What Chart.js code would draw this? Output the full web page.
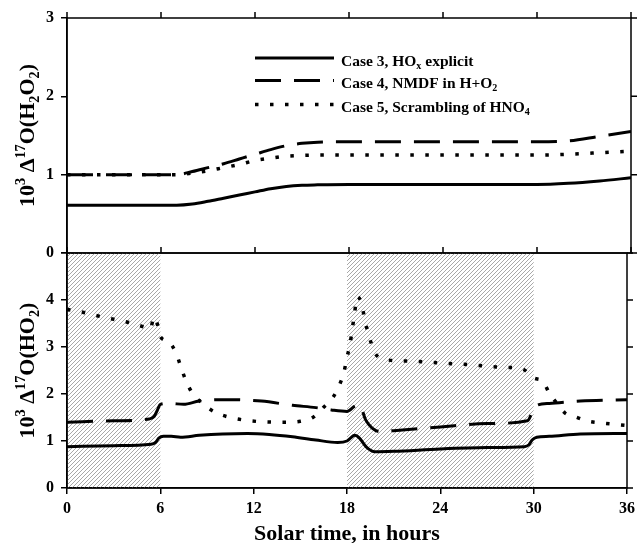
<!DOCTYPE html>
<html>
<head>
<meta charset="utf-8">
<script src="https://cdn.jsdelivr.net/npm/chart.js@4.4.0/dist/chart.umd.min.js"></script>
<style>
html, body { margin: 0; padding: 0; background: #fff; }
#wrap { position: relative; width: 640px; height: 543px; overflow: hidden; }
#wrap canvas { position: absolute; left: 0; top: 0; }
</style>
</head>
<body>
<div id="wrap">
    <canvas id="topChart" width="640" height="543"></canvas>
    <canvas id="bottomChart" width="640" height="543"></canvas>
</div>
<script>
// ---- data ----
const hourTicks = [0, 6, 12, 18, 24, 30, 36];
const nightRanges = [[0, 6], [18, 30]];

// upper panel: H2O2
const h2o2Hours = [0, 3, 6, 7, 8, 9, 10, 11, 12, 13, 14, 15, 16, 18, 24, 30, 32, 34, 36];
const case3H2O2 = [0.61, 0.61, 0.61, 0.61, 0.625, 0.66, 0.70, 0.74, 0.78, 0.82, 0.85, 0.865, 0.87, 0.875, 0.875, 0.875, 0.89, 0.92, 0.96];
const case4H2O2 = [1.0, 1.0, 1.0, 1.0, 1.04, 1.09, 1.14, 1.2, 1.26, 1.32, 1.37, 1.40, 1.415, 1.42, 1.42, 1.42, 1.43, 1.49, 1.55];
const case5H2O2 = [1.0, 1.0, 1.0, 1.0, 1.02, 1.05, 1.09, 1.13, 1.18, 1.21, 1.235, 1.245, 1.25, 1.25, 1.25, 1.25, 1.26, 1.28, 1.30];

// lower panel: HO2
const case3Hours = [0, 3, 5.4, 5.7, 5.9, 6.2, 6.7, 7.3, 8.5, 10, 11.6, 13, 14.5, 16, 17.4, 18, 18.5, 18.8, 19.25, 19.8, 21, 24, 27, 29.4, 29.7, 29.9, 30.2, 31, 33, 36];
const case3HO2 = [0.88, 0.9, 0.93, 0.97, 1.06, 1.1, 1.1, 1.08, 1.12, 1.15, 1.16, 1.14, 1.09, 1.02, 0.97, 1.0, 1.12, 1.06, 0.87, 0.77, 0.78, 0.83, 0.86, 0.88, 0.92, 1.02, 1.08, 1.1, 1.15, 1.16];

const case4Hours = [0, 3, 5.3, 5.6, 5.8, 6.0, 6.6, 7.5, 8.5, 10.5, 12.5, 14.5, 16, 17, 18, 18.5, 18.8, 19.2, 19.6, 20.1, 21, 24, 27, 29.6, 29.9, 30.2, 31, 33, 36];
const case4HO2 = [1.40, 1.43, 1.47, 1.52, 1.65, 1.78, 1.80, 1.78, 1.85, 1.88, 1.85, 1.76, 1.71, 1.66, 1.63, 1.74, 1.77, 1.45, 1.28, 1.2, 1.22, 1.3, 1.37, 1.43, 1.6, 1.76, 1.8, 1.85, 1.88];

const case5Hours = [0, 1, 2, 3, 4, 5, 5.35, 5.6, 5.8, 6.0, 6.5, 7.0, 7.3, 7.6, 8.0, 8.5, 9.0, 9.6, 10.5, 11.5,
    12.5, 14, 15, 15.8, 16.5, 17.1, 17.5, 17.8, 18.0, 18.2, 18.35, 18.5, 18.65, 18.95, 19.05, 19.25, 19.5, 19.8, 20.5, 22,
    24, 26, 28, 29.3, 30, 30.6, 31, 31.5, 32, 32.7, 33.5, 34.5, 36];
const case5HO2 = [3.80, 3.74, 3.66, 3.59, 3.52, 3.42, 3.38, 3.64, 3.50, 3.22, 3.12, 2.88, 2.6, 2.32, 2.05, 1.86, 1.72, 1.60, 1.50, 1.44,
    1.41, 1.40, 1.42, 1.5, 1.72, 1.93, 2.18, 2.46, 2.78, 3.07, 3.41, 3.75, 4.07, 3.91, 3.74, 3.43, 3.14, 2.87, 2.73, 2.70,
    2.66, 2.62, 2.57, 2.53, 2.34, 2.27, 2.02, 1.8, 1.6, 1.51, 1.42, 1.38, 1.33];

// text pieces: [text, '' | 'sup' | 'sub']
const legendItems = [
    { dash: [], parts: [['Case 3, HO', ''], ['x', 'sub'], [' explicit', '']] },
    { dash: [26, 13], parts: [['Case 4, NMDF in H+O', ''], ['2', 'sub']] },
    { dash: [3.5, 11.5], parts: [['Case 5, Scrambling of HNO', ''], ['4', 'sub']] }
];
const topTitle = [['10', ''], ['3', 'sup'], [' \u0394', ''], ['17', 'sup'], ['O(H', ''], ['2', 'sub'], ['O', ''], ['2', 'sub'], [')', '']];
const bottomTitle = [['10', ''], ['3', 'sup'], [' \u0394', ''], ['17', 'sup'], ['O(HO', ''], ['2', 'sub'], [')', '']];
const xTitle = 'Solar time, in hours';

const FONT = '"Liberation Serif", "Times New Roman", serif';
Chart.defaults.font.family = FONT;
Chart.defaults.font.weight = 'bold';
Chart.defaults.font.size = 16;
Chart.defaults.color = '#000';

const toPoints = (hs, vs) => hs.map((h, i) => ({ x: h, y: vs[i] }));

function lineSet(points, dash, width) {
    return {
        data: points,
        borderColor: '#000',
        borderWidth: width,
        borderDash: dash,
        pointRadius: 0,
        fill: false,
        cubicInterpolationMode: 'monotone'
    };
}

// shared look for the left / bottom axes (outward tick marks)
const axisGrid = { display: true, drawOnChartArea: false, drawTicks: true, tickLength: 6, color: '#000', lineWidth: 1.5 };
const axisBorder = { display: true, color: '#000', width: 1.5 };

function richWidth(ctx, parts, size) {
    let w = 0;
    parts.forEach(([t, mode]) => {
        ctx.font = 'bold ' + (mode ? size * 0.65 : size) + 'px ' + FONT;
        w += ctx.measureText(t).width;
    });
    return w;
}

// draws text with sub/superscripts, x is left edge, y is baseline
function drawRich(ctx, parts, x, y, size) {
    ctx.textAlign = 'left';
    ctx.textBaseline = 'alphabetic';
    parts.forEach(([t, mode]) => {
        const s = mode ? size * 0.65 : size;
        const dy = mode === 'sup' ? -size * 0.4 : mode === 'sub' ? size * 0.22 : 0;
        ctx.font = 'bold ' + s + 'px ' + FONT;
        ctx.fillText(t, x, y + dy);
        x += ctx.measureText(t).width;
    });
}

function drawYTitle(ctx, parts, area) {
    const size = 22;
    const cy = (area.top + area.bottom) / 2;
    ctx.save();
    ctx.translate(34, cy);
    ctx.rotate(-Math.PI / 2);
    ctx.fillStyle = '#000';
    drawRich(ctx, parts, -richWidth(ctx, parts, size) / 2, 0, size);
    ctx.restore();
}

function drawFrame(chart, topTicks) {
    const ctx = chart.ctx;
    const a = chart.chartArea;
    const xs = chart.scales.x;
    const ys = chart.scales.y;
    ctx.save();
    ctx.strokeStyle = '#000';
    ctx.lineWidth = 1.5;
    ctx.strokeRect(a.left, a.top, a.right - a.left, a.bottom - a.top);
    ctx.beginPath();
    ys.ticks.forEach(t => {
        const py = ys.getPixelForValue(t.value);
        ctx.moveTo(a.right, py);
        ctx.lineTo(a.right + 6, py);
    });
    if (topTicks) {
        hourTicks.forEach(h => {
            const px = xs.getPixelForValue(h);
            ctx.moveTo(px, a.top - 6);
            ctx.lineTo(px, a.top);
            ctx.moveTo(px, a.bottom);
            ctx.lineTo(px, a.bottom - 6);
        });
    }
    ctx.stroke();
    ctx.restore();
}

function makeHatch(ctx) {
    const c = document.createElement('canvas');
    c.width = 4;
    c.height = 4;
    const g = c.getContext('2d');
    g.strokeStyle = '#a8a8a8';
    g.lineWidth = 1;
    g.beginPath();
    g.moveTo(0, 4); g.lineTo(4, 0);
    g.moveTo(-1, 1); g.lineTo(1, -1);
    g.moveTo(3, 5); g.lineTo(5, 3);
    g.stroke();
    return ctx.createPattern(c, 'repeat');
}

const topPlugin = {
    id: 'topDecor',
    afterDraw(chart) {
        const ctx = chart.ctx;
        drawFrame(chart, true);
        drawYTitle(ctx, topTitle, chart.chartArea);
        // legend
        const rows = [58, 80.5, 104.5];
        ctx.save();
        ctx.strokeStyle = '#000';
        ctx.fillStyle = '#000';
        legendItems.forEach((item, i) => {
            ctx.lineWidth = i === 2 ? 3.5 : 3;
            ctx.setLineDash(item.dash);
            ctx.beginPath();
            ctx.moveTo(255, rows[i]);
            ctx.lineTo(334, rows[i]);
            ctx.stroke();
            ctx.setLineDash([]);
            drawRich(ctx, item.parts, 341, rows[i] + 7.5, 15.5);
        });
        ctx.restore();
    }
};

let hatch = null;
const bottomPlugin = {
    id: 'bottomDecor',
    beforeDatasetsDraw(chart) {
        const ctx = chart.ctx;
        const a = chart.chartArea;
        const xs = chart.scales.x;
        if (!hatch) hatch = makeHatch(ctx);
        ctx.save();
        ctx.fillStyle = hatch;
        nightRanges.forEach(([h0, h1]) => {
            const x0 = xs.getPixelForValue(h0);
            const x1 = xs.getPixelForValue(h1);
            ctx.fillRect(x0, a.top, x1 - x0, a.bottom - a.top);
        });
        ctx.restore();
    },
    afterDraw(chart) {
        const ctx = chart.ctx;
        const a = chart.chartArea;
        drawFrame(chart, false);
        drawYTitle(ctx, bottomTitle, a);
        ctx.save();
        ctx.fillStyle = '#000';
        ctx.font = 'bold 22px ' + FONT;
        ctx.textAlign = 'center';
        ctx.textBaseline = 'alphabetic';
        ctx.fillText(xTitle, (a.left + a.right) / 2, 540);
        ctx.restore();
    }
};

new Chart(document.getElementById('topChart'), {
    type: 'line',
    data: {
        datasets: [
            lineSet(toPoints(h2o2Hours, case3H2O2), [], 3),
            lineSet(toPoints(h2o2Hours, case4H2O2), [26, 13], 3),
            lineSet(toPoints(h2o2Hours, case5H2O2), [3.5, 11.5], 3.5)
        ]
    },
    options: {
        responsive: false,
        animation: false,
        layout: { padding: { left: 0, right: 9, top: 18, bottom: 290 } },
        plugins: { legend: { display: false }, tooltip: { enabled: false } },
        scales: {
            x: { type: 'linear', min: 0, max: 36, display: false },
            y: {
                type: 'linear', min: 0, max: 3,
                grid: axisGrid,
                border: axisBorder,
                ticks: { stepSize: 1, padding: 7, font: { size: 16, weight: 'bold' } },
                afterFit(scale) { scale.width = 67; }
            }
        }
    },
    plugins: [topPlugin]
});

new Chart(document.getElementById('bottomChart'), {
    type: 'line',
    data: {
        datasets: [
            lineSet(toPoints(case3Hours, case3HO2), [], 3),
            lineSet(toPoints(case4Hours, case4HO2), [26, 13], 3),
            lineSet(toPoints(case5Hours, case5HO2), [3.5, 11.5], 3.5)
        ]
    },
    options: {
        responsive: false,
        animation: false,
        layout: { padding: { left: 0, right: 9, top: 253, bottom: 0 } },
        plugins: { legend: { display: false }, tooltip: { enabled: false } },
        scales: {
            x: {
                type: 'linear', min: 0, max: 36,
                grid: axisGrid,
                border: axisBorder,
                ticks: {
                    stepSize: 6, padding: 5, maxRotation: 0, autoSkip: false,
                    font: { size: 16, weight: 'bold' }
                },
                afterFit(scale) { scale.height = 55; }
            },
            y: {
                type: 'linear', min: 0, max: 5,
                grid: axisGrid,
                border: axisBorder,
                ticks: {
                    stepSize: 1, padding: 7,
                    font: { size: 16, weight: 'bold' },
                    callback: v => (v === 5 ? '' : v)
                },
                afterFit(scale) { scale.width = 67; }
            }
        }
    },
    plugins: [bottomPlugin]
});
</script>
</body>
</html>
